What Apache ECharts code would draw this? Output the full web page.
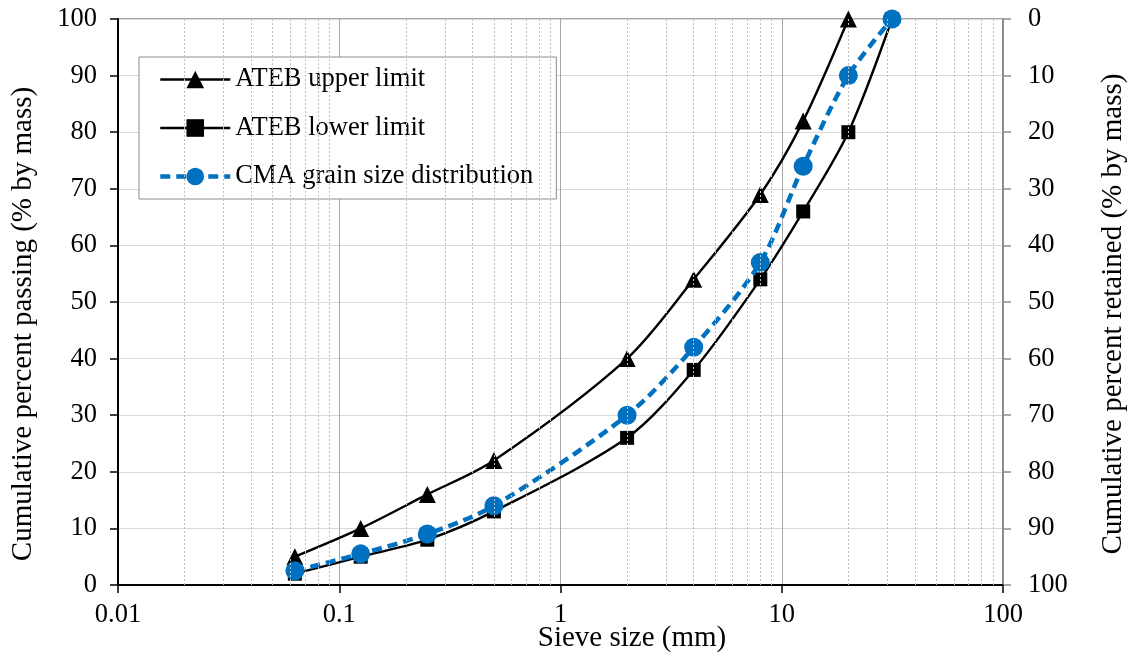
<!DOCTYPE html>
<html><head><meta charset="utf-8">
<script src="https://cdn.jsdelivr.net/npm/echarts@6/dist/echarts.min.js"></script>
<style>html,body{margin:0;padding:0;background:#fff}#c{width:1138px;height:661px}</style>
</head><body><div id="c"></div>
<script>
const sieveSizes = [0.063, 0.125, 0.25, 0.5, 2, 4, 8, 12.5, 20, 31.5];
const upperLimit = [5, 10, 16, 22, 40, 54, 69, 82, 100];
const lowerLimit = [2, 5, 8, 13, 26, 38, 54, 66, 80, 100];
const cmaPassing = [2.5, 5.5, 9, 14, 30, 42, 57, 74, 90, 100];
const minorGridX = [0.02,0.03,0.04,0.05,0.06,0.07,0.08,0.09,0.2,0.3,0.4,0.5,0.6,0.7,0.8,0.9,2,3,4,5,6,7,8,9,20,30,40,50,60,70,80,90];
const seriesNames = ['ATEB upper limit','ATEB lower limit','CMA grain size distribution'];
const xTitle = 'Sieve size (mm)';
const yLeftTitle = 'Cumulative percent passing (% by mass)';
const yRightTitle = 'Cumulative percent retained (% by mass)';

const FONT = '"Liberation Serif", "Times New Roman", serif';
const pairs = (vals) => vals.map((v,i)=>[sieveSizes[i], v]);

const chart = echarts.init(document.getElementById('c'), null, {renderer:'canvas'});
chart.setOption({
  animation:false,
  backgroundColor:'#fff',
  textStyle:{fontFamily:FONT},
  grid:{left:118,right:135,top:19,bottom:76,show:true,borderColor:'#8c8c8c',borderWidth:1.5,backgroundColor:'transparent'},
  legend:{
    orient:'vertical', left:139, top:57,
    backgroundColor:'#fff', borderColor:'#8c8c8c', borderWidth:1,
    padding:[9,23,9,19], itemWidth:70, itemHeight:22, itemGap:21.5,
    textStyle:{fontFamily:FONT,fontSize:26.5,color:'#000'},
    data:[
      {name:seriesNames[0], lineStyle:{width:2.4}},
      {name:seriesNames[1], lineStyle:{width:2.4}},
      {name:seriesNames[2], lineStyle:{width:4.5}}
    ]
  },
  xAxis:{
    type:'log', logBase:10, min:0.01, max:100,
    axisLine:{show:true,lineStyle:{color:'#000',width:2}},
    axisTick:{show:true,length:8,lineStyle:{color:'#000',width:1.5}},
    axisLabel:{fontFamily:FONT,fontSize:26.5,color:'#000',margin:17,
      formatter:(v)=>String(+v.toPrecision(3))},
    splitLine:{show:true,lineStyle:{color:'#a6a6a6',width:1}}
  },
  yAxis:[{
    type:'value', min:0, max:100, interval:10, position:'left',
    axisLine:{show:true,lineStyle:{color:'#000',width:2}},
    axisTick:{show:true,length:8,lineStyle:{color:'#000',width:1.5}},
    axisLabel:{fontFamily:FONT,fontSize:26.5,color:'#000',margin:21},
    splitLine:{show:true,lineStyle:{color:'#d9d9d9',width:1}}
  },{
    type:'value', min:0, max:100, interval:10, position:'right', inverse:true,
    axisLine:{show:true,lineStyle:{color:'#8c8c8c',width:2}},
    axisTick:{show:true,length:8,lineStyle:{color:'#8c8c8c',width:1.5}},
    axisLabel:{fontFamily:FONT,fontSize:26.5,color:'#000',margin:25},
    splitLine:{show:false}
  }],
  graphic:[
    {type:'text',x:632,y:638,style:{text:xTitle,font:'29px '+FONT,fill:'#000',align:'center',verticalAlign:'middle'}},
    {type:'text',x:23,y:324,rotation:Math.PI/2,style:{text:yLeftTitle,font:'29px '+FONT,fill:'#000',align:'center',verticalAlign:'middle'}},
    {type:'text',x:1113,y:314,rotation:Math.PI/2,style:{text:yRightTitle,font:'29px '+FONT,fill:'#000',align:'center',verticalAlign:'middle'}}
  ],
  series:[
    {name:'__minor',type:'line',data:[],silent:true,
      markLine:{silent:true,symbol:'none',label:{show:false},
        lineStyle:{color:'#bfbfbf',type:[2,2],width:1},
        data:minorGridX.map(x=>({xAxis:x}))}},
    {name:seriesNames[0],type:'line',data:pairs(upperLimit),smooth:0.3,
      symbol:'triangle',symbolSize:17,itemStyle:{color:'#000'},
      lineStyle:{color:'#000',width:2.4},z:3},
    {name:seriesNames[1],type:'line',data:pairs(lowerLimit),smooth:0.3,
      symbol:'rect',symbolSize:14,itemStyle:{color:'#000'},
      lineStyle:{color:'#000',width:2.4},z:3},
    {name:seriesNames[2],type:'line',data:pairs(cmaPassing),smooth:0.3,
      symbol:'circle',symbolSize:19,itemStyle:{color:'#0070C0'},
      lineStyle:{color:'#0070C0',width:4.5,type:[10,6]},z:4}
  ]
});
</script></body></html>
